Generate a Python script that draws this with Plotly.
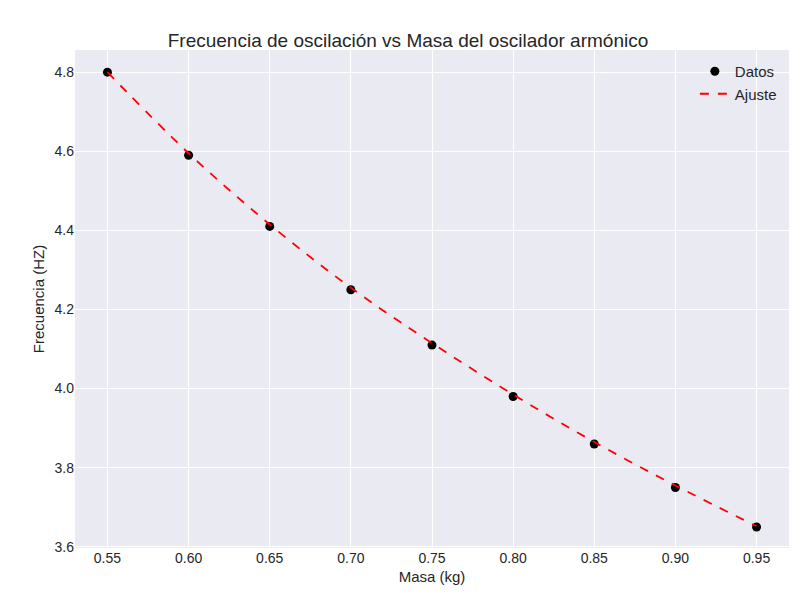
import plotly.graph_objects as go

masa = [0.55, 0.60, 0.65, 0.70, 0.75, 0.80, 0.85, 0.90, 0.95]
frecuencia = [4.80, 4.59, 4.41, 4.25, 4.11, 3.98, 3.86, 3.75, 3.65]

# fit curve values
masa_ajuste = [0.55, 0.60, 0.65, 0.70, 0.75, 0.80, 0.85, 0.90, 0.95]
frec_ajuste = [4.80, 4.595, 4.415, 4.255, 4.115, 3.985, 3.865, 3.755, 3.652]

fig = go.Figure()
fig.add_trace(go.Scatter(
    x=masa, y=frecuencia, mode="markers", name="Datos",
    marker=dict(color="black", size=9),
))
fig.add_trace(go.Scatter(
    x=masa_ajuste, y=frec_ajuste, mode="lines", name="Ajuste",
    line=dict(color="red", dash="dash", width=1.8, shape="spline"),
))
fig.update_layout(
    width=800, height=600,
    paper_bgcolor="white", plot_bgcolor="#EAEAF2",
    font=dict(family="Liberation Sans", size=14, color="#262626"),
    title=dict(text="Frecuencia de oscilación vs Masa del oscilador armónico",
               x=0.5, xanchor="center", y=0.957, font=dict(size=19)),
    margin=dict(l=67, r=19, t=42, b=60, autoexpand=False),
    xaxis=dict(title=dict(text="Masa (kg)", standoff=6, font=dict(size=15)),
               range=[0.530, 0.970], automargin=False,
               tickvals=masa, ticktext=[f"{v:.2f}" for v in masa],
               gridcolor="white", gridwidth=1, zeroline=False, showline=False),
    yaxis=dict(title=dict(text="Frecuencia (HZ)", standoff=6, font=dict(size=15)),
               range=[3.597, 4.856], automargin=False,
               tickvals=[3.6, 3.8, 4.0, 4.2, 4.4, 4.6, 4.8], tickformat=".1f",
               gridcolor="white", gridwidth=1, zeroline=False, showline=False),
    legend=dict(x=0.99, y=0.99, xanchor="right", yanchor="top",
                bgcolor="rgba(0,0,0,0)", font=dict(size=15)),
)
fig.write_html("out.html")
